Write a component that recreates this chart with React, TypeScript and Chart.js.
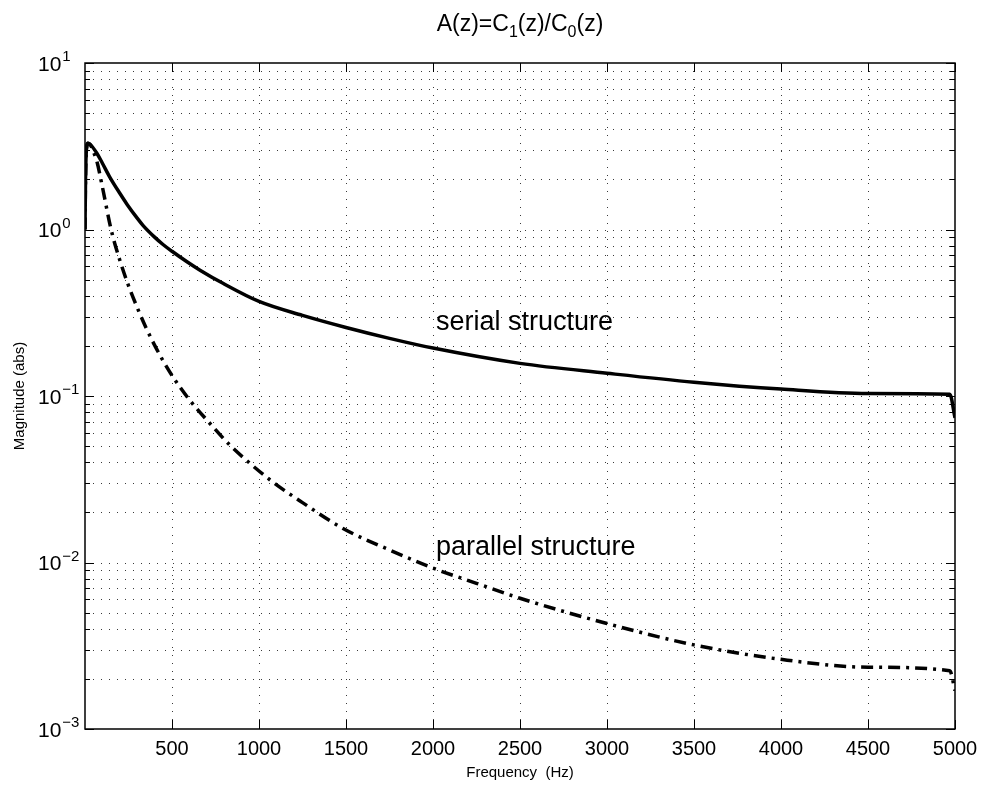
import React, { useEffect, useRef } from 'react';
import { Chart, registerables } from 'chart.js';

Chart.register(...registerables);

// ---- data ----
const serialFreq = [0, 3, 8, 17, 35, 69, 100, 144, 200, 241, 300, 333, 400, 450, 500, 586, 661, 793, 1000, 1250, 1500, 1750, 2000, 2500, 3000, 3500, 4000, 4500, 4970, 5000];
const serialMag = [1.0, 2.0, 3.0, 3.3, 3.2, 2.86, 2.5, 2.05, 1.65, 1.42, 1.17, 1.06, 0.9, 0.81, 0.74, 0.64, 0.57, 0.475, 0.37, 0.305, 0.258, 0.222, 0.194, 0.157, 0.137, 0.121, 0.11, 0.1035, 0.1025, 0.074];

const parallelFreq = [0, 3, 8, 17, 29, 50, 69, 100, 150, 201, 250, 300, 350, 402, 450, 506, 600, 718, 830, 948, 1080, 1250, 1483, 1750, 1994, 2250, 2500, 3000, 3500, 4000, 4500, 4970, 5000];
const parallelMag = [1.0, 2.0, 3.0, 3.3, 3.25, 2.9, 2.55, 1.8, 1.0, 0.65, 0.46, 0.34, 0.258, 0.2, 0.162, 0.13, 0.095, 0.0684, 0.051, 0.0394, 0.0304, 0.0229, 0.016, 0.0119, 0.0093, 0.0075, 0.0061, 0.0043, 0.0032, 0.00262, 0.00235, 0.00224, 0.0017];

const xTickValues = [500, 1000, 1500, 2000, 2500, 3000, 3500, 4000, 4500, 5000];
const yDecades = [-3, -2, -1, 0, 1];
const yMantissas = [1, 2, 3, 4, 5, 6, 7, 8, 9];

const titleParts = ['A(z)=C', '1', '(z)/C', '0', '(z)'];
const xAxisTitle = 'Frequency  (Hz)';
const yAxisTitle = 'Magnitude (abs)';
const serialLabel = 'serial structure';
const parallelLabel = 'parallel structure';

const FONT = '"Liberation Sans", Arial, Helvetica, sans-serif';

const yGridValues: number[] = [];
yDecades.forEach((d) => {
  yMantissas.forEach((m) => {
    const v = m * Math.pow(10, d);
    if (v <= 10 + 1e-9) yGridValues.push(v);
  });
});

const matlabPlugin = {
  id: 'matlabDecor',
  beforeDatasetsDraw(chart: any) {
    const { ctx, chartArea: a, scales } = chart;
    const xs = scales.x;
    const ys = scales.y;
    ctx.save();
    ctx.strokeStyle = '#3a3a3a';
    ctx.lineWidth = 1;
    ctx.setLineDash([1, 7]);
    xTickValues.forEach((v) => {
      if (v >= 5000) return;
      const x = Math.round(xs.getPixelForValue(v)) + 0.5;
      ctx.beginPath();
      ctx.moveTo(x, a.top);
      ctx.lineTo(x, a.bottom);
      ctx.stroke();
    });
    yGridValues.forEach((v) => {
      if (v <= 0.001 + 1e-12 || v >= 10 - 1e-9) return;
      const y = Math.round(ys.getPixelForValue(v)) + 0.5;
      ctx.beginPath();
      ctx.moveTo(a.left, y);
      ctx.lineTo(a.right, y);
      ctx.stroke();
    });
    ctx.restore();
  },
  afterDatasetsDraw(chart: any) {
    const { ctx, chartArea: a, scales } = chart;
    const xs = scales.x;
    const ys = scales.y;
    ctx.save();
    ctx.setLineDash([]);
    ctx.strokeStyle = '#000';
    // frame
    ctx.lineWidth = 1.5;
    ctx.strokeRect(a.left, a.top, a.right - a.left, a.bottom - a.top);
    // x ticks (inward, bottom and top)
    ctx.lineWidth = 1;
    xTickValues.forEach((v) => {
      const x = Math.round(xs.getPixelForValue(v)) + 0.5;
      ctx.beginPath();
      ctx.moveTo(x, a.bottom);
      ctx.lineTo(x, a.bottom - 9);
      ctx.moveTo(x, a.top);
      ctx.lineTo(x, a.top + 9);
      ctx.stroke();
    });
    // y ticks (inward, left and right)
    yGridValues.forEach((v, i) => {
      const y = Math.round(ys.getPixelForValue(v)) + 0.5;
      const len = i % 9 === 0 ? 9 : 5;
      ctx.beginPath();
      ctx.moveTo(a.left, y);
      ctx.lineTo(a.left + len, y);
      ctx.moveTo(a.right, y);
      ctx.lineTo(a.right - len, y);
      ctx.stroke();
    });

    ctx.fillStyle = '#000';
    // x tick labels
    ctx.font = `20px ${FONT}`;
    ctx.textAlign = 'center';
    ctx.textBaseline = 'middle';
    xTickValues.forEach((v) => {
      const x = xs.getPixelForValue(v);
      ctx.fillText(String(v), x, a.bottom + 20);
    });
    // y tick labels 10^k
    yDecades.forEach((d) => {
      const y = ys.getPixelForValue(Math.pow(10, d));
      ctx.textAlign = 'left';
      ctx.textBaseline = 'middle';
      ctx.font = `21px ${FONT}`;
      ctx.fillText('10', 38, y + 2);
      const w = ctx.measureText('10').width;
      ctx.font = `15px ${FONT}`;
      const exp = d < 0 ? '\u2212' + String(-d) : String(d);
      ctx.fillText(exp, 38 + w + 1, y - 6);
    });
    // axis titles
    ctx.font = `15px ${FONT}`;
    ctx.textAlign = 'center';
    ctx.textBaseline = 'middle';
    ctx.fillText(xAxisTitle, (a.left + a.right) / 2, 773);
    ctx.save();
    ctx.translate(20, (a.top + a.bottom) / 2);
    ctx.rotate(-Math.PI / 2);
    ctx.fillText(yAxisTitle, 0, 0);
    ctx.restore();
    // title with subscripts
    const big = `23px ${FONT}`;
    const small = `16px ${FONT}`;
    let total = 0;
    titleParts.forEach((p, i) => {
      ctx.font = i % 2 === 1 ? small : big;
      total += ctx.measureText(p).width;
    });
    let tx = (a.left + a.right) / 2 - total / 2;
    ctx.textAlign = 'left';
    ctx.textBaseline = 'alphabetic';
    titleParts.forEach((p, i) => {
      const sub = i % 2 === 1;
      ctx.font = sub ? small : big;
      ctx.fillText(p, tx, sub ? 37 : 31);
      tx += ctx.measureText(p).width;
    });
    // annotations
    ctx.font = `27px ${FONT}`;
    ctx.fillText(serialLabel, 436, 330);
    ctx.fillText(parallelLabel, 436, 555);
    ctx.restore();
  },
};

export default function App() {
  const ref = useRef<HTMLCanvasElement | null>(null);
  useEffect(() => {
    if (!ref.current) return;
    const chart = new Chart(ref.current, {
      type: 'scatter',
      data: {
        datasets: [
          {
            label: serialLabel,
            data: serialFreq.map((f, i) => ({ x: f, y: serialMag[i] })),
            showLine: true,
            borderColor: '#000',
            backgroundColor: '#000',
            borderWidth: 3.5,
            pointRadius: 0,
            cubicInterpolationMode: 'monotone',
          },
          {
            label: parallelLabel,
            data: parallelFreq.map((f, i) => ({ x: f, y: parallelMag[i] })),
            showLine: true,
            borderColor: '#000',
            backgroundColor: '#000',
            borderWidth: 3.5,
            borderDash: [12, 6, 3, 6],
            pointRadius: 0,
            cubicInterpolationMode: 'monotone',
          },
        ],
      },
      options: {
        responsive: false,
        animation: false,
        devicePixelRatio: 1,
        layout: { padding: { top: 63, right: 31, left: 0, bottom: 0 } },
        plugins: {
          legend: { display: false },
          title: { display: false },
          tooltip: { enabled: false },
        },
        scales: {
          x: {
            type: 'linear',
            min: 0,
            max: 5000,
            ticks: { display: false, stepSize: 500 },
            grid: { display: false },
            border: { display: false },
            afterFit: (s: any) => {
              s.height = 60;
            },
          },
          y: {
            type: 'logarithmic',
            min: 0.001,
            max: 10,
            ticks: { display: false },
            grid: { display: false },
            border: { display: false },
            afterBuildTicks: (s: any) => {
              s.ticks = yGridValues.map((v) => ({ value: v }));
            },
            afterFit: (s: any) => {
              s.width = 85;
            },
          },
        },
      },
      plugins: [matlabPlugin],
    } as any);
    return () => chart.destroy();
  }, []);
  return (
    <div style={{ position: 'fixed', left: 0, top: 0, width: 986, height: 789, background: '#fff' }}>
      <canvas ref={ref} width={986} height={789} style={{ width: 986, height: 789, display: 'block' }} />
    </div>
  );
}
